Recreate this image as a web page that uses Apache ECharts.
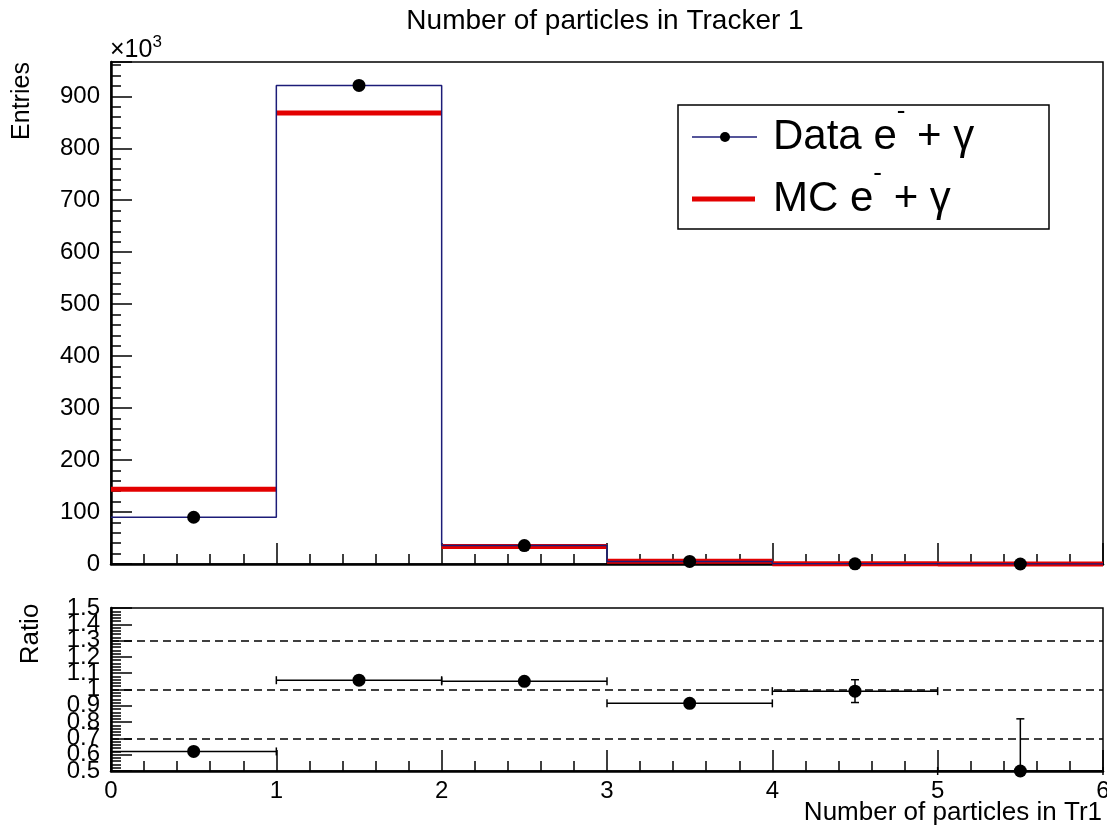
<!DOCTYPE html>
<html>
<head>
<meta charset="utf-8">
<title>Number of particles in Tracker 1</title>
<script src="https://cdn.jsdelivr.net/npm/echarts@6/dist/echarts.min.js"></script>
<style>
  html, body { margin: 0; padding: 0; background: #fff; }
  #chart { width: 1107px; height: 828px; }
</style>
</head>
<body>
<div id="chart"></div>
<script>
// bin edges of "Number of particles in Tr1"
var binEdges = [0, 1, 2, 3, 4, 5, 6];
// entries per bin, in units of 10^3
var dataEntries = [90, 921, 35.5, 5.0, 0.4, 0.02];
var mcEntries = [144, 868, 33.5, 5.5, 0.4, 0.04];
// ratio panel (data / MC) and its errors
var ratioValues = [0.62, 1.057, 1.05, 0.915, 0.99, 0.5];
var ratioErrors = [0.004, 0.004, 0.01, 0.012, 0.07, 0.32];
var ratioRefLines = [0.7, 1.0, 1.3];
var ratioTickLabels = [0.5, 0.6, 0.7, 0.8, 0.9, 1.0, 1.1, 1.2, 1.3, 1.4, 1.5];

var FONT = "'Liberation Sans', Arial, Helvetica, sans-serif";
var NAVY = "#1c1c78";
var RED = "#e30000";

var centers = [];
for (var i = 0; i < dataEntries.length; i++) {
  centers.push((binEdges[i] + binEdges[i + 1]) / 2);
}

// step line for data histogram: left edge of each bin, plus last edge
var dataStep = [];
dataEntries.forEach(function (v, i) { dataStep.push([binEdges[i], v]); });
dataStep.push([binEdges[binEdges.length - 1], dataEntries[dataEntries.length - 1]]);

var mcBins = mcEntries.map(function (v, i) { return [binEdges[i], binEdges[i + 1], v]; });
var dataPoints = dataEntries.map(function (v, i) { return [centers[i], v]; });
var ratioPoints = ratioValues.map(function (v, i) { return [centers[i], v]; });
var ratioBars = ratioValues.map(function (v, i) {
  return [centers[i], v, binEdges[i], binEdges[i + 1], ratioErrors[i]];
});

// the ratio labels overlap (as in the original); split them over two axes
// so echarts does not drop any of them
var ratioLabelsA = ratioTickLabels.filter(function (v, i) { return i % 2 === 0; });
var ratioLabelsB = ratioTickLabels.filter(function (v, i) { return i % 2 === 1; });
function ratioFmt(v) { return String(Math.round(v * 10) / 10); }

function tickAxis(extra) {
  var base = {
    axisLine: { show: true, onZero: false, lineStyle: { color: "#000", width: 2.5 } },
    axisTick: { show: true, inside: true, length: 21, lineStyle: { color: "#000", width: 1.5 } },
    minorTick: { show: true, splitNumber: 5, length: 10, lineStyle: { color: "#000", width: 1.5 } },
    splitLine: { show: false },
    minorSplitLine: { show: false },
    axisLabel: { color: "#000", fontFamily: FONT, fontSize: 24, hideOverlap: false }
  };
  for (var k in extra) {
    if (typeof extra[k] === "object" && base[k] && !Array.isArray(extra[k])) {
      base[k] = Object.assign({}, base[k], extra[k]);
    } else {
      base[k] = extra[k];
    }
  }
  return base;
}

var chart = echarts.init(document.getElementById("chart"));

var option = {
  backgroundColor: "#fff",
  animation: false,
  grid: [
    { left: 111, top: 62, width: 992, height: 502, show: true, borderColor: "#000", borderWidth: 1.5, backgroundColor: "transparent", outerBoundsMode: "none" },
    { left: 111, top: 608, width: 992, height: 163, show: true, borderColor: "#000", borderWidth: 1.5, backgroundColor: "transparent", outerBoundsMode: "none" }
  ],
  xAxis: [
    tickAxis({ type: "value", gridIndex: 0, min: 0, max: 6, interval: 1, axisLabel: { show: false } }),
    tickAxis({ type: "value", gridIndex: 1, min: 0, max: 6, interval: 1,
      axisLabel: { margin: 8, showMinLabel: true, showMaxLabel: true } })
  ],
  yAxis: [
    tickAxis({ type: "value", gridIndex: 0, min: 0, max: 966, interval: 100,
      axisLabel: { margin: 11, showMaxLabel: false } }),
    tickAxis({ type: "value", gridIndex: 1, position: "left", min: 0.5, max: 1.5, interval: 0.1,
      axisLabel: { margin: 11, customValues: ratioLabelsA, showMinLabel: true, showMaxLabel: true, formatter: ratioFmt } }),
    tickAxis({ type: "value", gridIndex: 1, position: "left", min: 0.5, max: 1.5, interval: 0.1,
      axisLine: { show: false }, axisTick: { show: false }, minorTick: { show: false },
      axisLabel: { margin: 11, customValues: ratioLabelsB, formatter: ratioFmt } })
  ],
  series: [
    {
      name: "MC",
      type: "custom",
      xAxisIndex: 0, yAxisIndex: 0,
      data: mcBins,
      encode: { x: [0, 1], y: 2 },
      z: 3,
      renderItem: function (params, api) {
        var p0 = api.coord([api.value(0), api.value(2)]);
        var p1 = api.coord([api.value(1), api.value(2)]);
        return {
          type: "line",
          shape: { x1: p0[0], y1: p0[1], x2: p1[0], y2: p1[1] },
          style: { stroke: RED, lineWidth: 5 }
        };
      }
    },
    {
      name: "Data hist",
      type: "line",
      xAxisIndex: 0, yAxisIndex: 0,
      data: dataStep,
      step: "end",
      symbol: "none",
      z: 4,
      lineStyle: { color: NAVY, width: 1.5 }
    },
    {
      name: "Data",
      type: "scatter",
      xAxisIndex: 0, yAxisIndex: 0,
      data: dataPoints,
      symbolSize: 13,
      clip: false,
      z: 5,
      itemStyle: { color: "#000", opacity: 1 }
    },
    {
      name: "Ratio errors",
      type: "custom",
      xAxisIndex: 1, yAxisIndex: 1,
      data: ratioBars,
      encode: { x: [0, 2, 3], y: 1 },
      z: 5,
      renderItem: function (params, api) {
        var x = api.value(0), y = api.value(1), e = api.value(4);
        var a = api.coord([api.value(2), y]);
        var b = api.coord([api.value(3), y]);
        var top = api.coord([x, y + e]);
        var bot = api.coord([x, y - e]);
        var cs = params.coordSys;
        var yMin = cs.y, yMax = cs.y + cs.height;
        var st = { stroke: "#000", lineWidth: 1.5 };
        var kids = [
          { type: "line", shape: { x1: a[0], y1: a[1], x2: b[0], y2: b[1] }, style: st },
          { type: "line", shape: { x1: a[0], y1: a[1] - 4, x2: a[0], y2: a[1] + 4 }, style: st },
          { type: "line", shape: { x1: b[0], y1: b[1] - 4, x2: b[0], y2: b[1] + 4 }, style: st }
        ];
        var t = Math.max(top[1], yMin), d = Math.min(bot[1], yMax);
        if (d - t > 1) {
          kids.push({ type: "line", shape: { x1: top[0], y1: t, x2: top[0], y2: d }, style: st });
          if (top[1] >= yMin) kids.push({ type: "line", shape: { x1: top[0] - 4, y1: t, x2: top[0] + 4, y2: t }, style: st });
          if (bot[1] <= yMax) kids.push({ type: "line", shape: { x1: bot[0] - 4, y1: d, x2: bot[0] + 4, y2: d }, style: st });
        }
        return { type: "group", children: kids };
      }
    },
    {
      name: "Ratio",
      type: "scatter",
      xAxisIndex: 1, yAxisIndex: 1,
      data: ratioPoints,
      symbolSize: 13,
      clip: false,
      z: 6,
      itemStyle: { color: "#000", opacity: 1 },
      markLine: {
        silent: true,
        symbol: "none",
        label: { show: false },
        lineStyle: { color: "#000", width: 1.5, type: [8, 5] },
        data: ratioRefLines.map(function (v) { return { yAxis: v }; })
      }
    }
  ],
  graphic: [
    {
      type: "text", x: 605, y: 21, z: 100,
      style: { text: "Number of particles in Tracker 1", font: "28px " + FONT, fill: "#000", align: "center", verticalAlign: "middle" }
    },
    {
      type: "text", x: 22, y: 101, rotation: Math.PI / 2, z: 100,
      style: { text: "Entries", font: "25px " + FONT, fill: "#000", align: "center", verticalAlign: "middle" }
    },
    {
      type: "text", x: 31, y: 634, rotation: Math.PI / 2, z: 100,
      style: { text: "Ratio", font: "26px " + FONT, fill: "#000", align: "center", verticalAlign: "middle" }
    },
    {
      type: "text", x: 110, y: 50, z: 100,
      style: {
        text: "{a|×10}{s|3}", align: "left", verticalAlign: "middle",
        rich: {
          a: { fontFamily: FONT, fontSize: 25, color: "#000" },
          s: { fontFamily: FONT, fontSize: 17, color: "#000", padding: [0, 0, 16, 0] }
        }
      }
    },
    {
      type: "text", x: 1102, y: 813, z: 100,
      style: { text: "Number of particles in Tr1", font: "26px " + FONT, fill: "#000", align: "right", verticalAlign: "middle" }
    },
    // legend box
    {
      type: "rect", z: 100,
      shape: { x: 678, y: 105, width: 371, height: 124 },
      style: { fill: "#fff", stroke: "#000", lineWidth: 1.5 }
    },
    {
      type: "line", z: 101,
      shape: { x1: 692, y1: 137, x2: 757, y2: 137 },
      style: { stroke: NAVY, lineWidth: 1.5 }
    },
    {
      type: "circle", z: 102,
      shape: { cx: 725, cy: 137, r: 5 },
      style: { fill: "#000" }
    },
    {
      type: "line", z: 101,
      shape: { x1: 692, y1: 199, x2: 755, y2: 199 },
      style: { stroke: RED, lineWidth: 5 }
    },
    {
      type: "text", x: 773, y: 137, z: 101,
      style: {
        text: "{m|Data e}{s|-}{m| + γ}", align: "left", verticalAlign: "middle",
        rich: {
          m: { fontFamily: FONT, fontSize: 42, color: "#000" },
          s: { fontFamily: FONT, fontSize: 26, color: "#000", padding: [0, 0, 50, 0] }
        }
      }
    },
    {
      type: "text", x: 773, y: 199, z: 101,
      style: {
        text: "{m|MC e}{s|-}{m| + γ}", align: "left", verticalAlign: "middle",
        rich: {
          m: { fontFamily: FONT, fontSize: 42, color: "#000" },
          s: { fontFamily: FONT, fontSize: 26, color: "#000", padding: [0, 0, 50, 0] }
        }
      }
    }
  ]
};

chart.setOption(option);
window.onresize = chart.resize;
</script>
</body>
</html>
